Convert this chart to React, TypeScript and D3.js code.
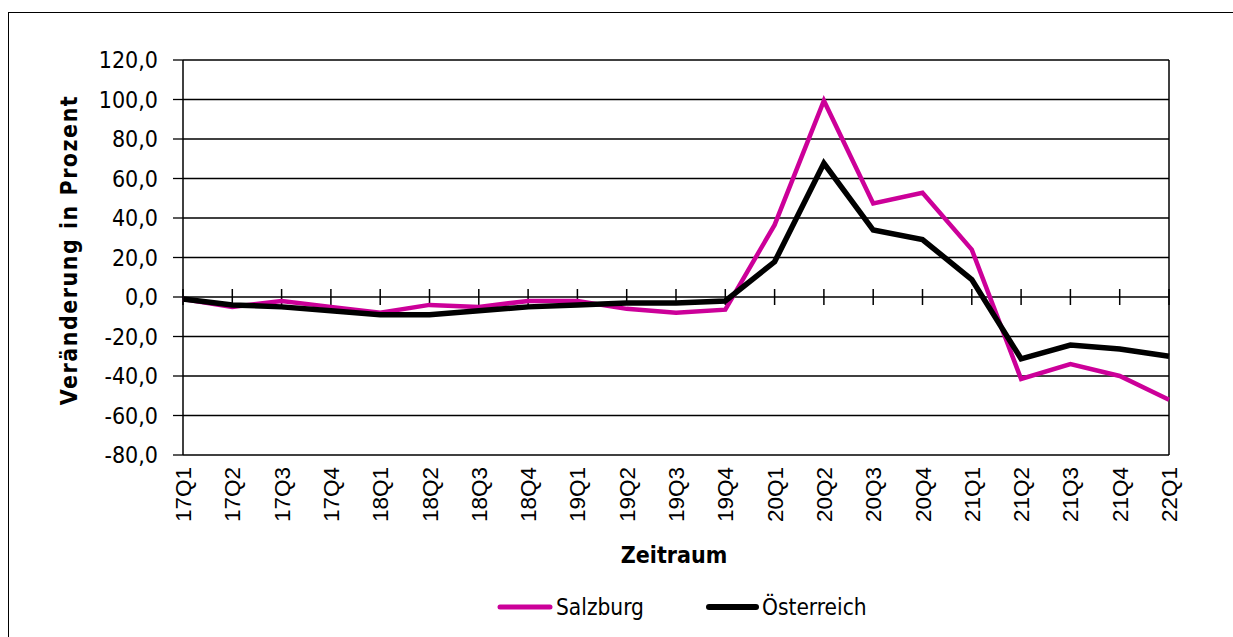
import React from 'react';
import * as d3 from 'd3';

// quarters shown on the x axis
const categories = [
  '17Q1', '17Q2', '17Q3', '17Q4', '18Q1', '18Q2', '18Q3', '18Q4',
  '19Q1', '19Q2', '19Q3', '19Q4', '20Q1', '20Q2', '20Q3', '20Q4',
  '21Q1', '21Q2', '21Q3', '21Q4', '22Q1',
];

// change in percent
const salzburg = [
  -1, -5, -2, -5, -8, -4, -5, -2, -2, -6, -8, -6.4,
  36.5, 99.4, 47.4, 52.8, 24, -41.5, -34, -40, -52,
];
const oesterreich = [
  -1, -4, -5, -7, -9, -9, -7, -5, -4, -3, -3, -2,
  17.8, 67.7, 33.9, 29.1, 8.8, -31.3, -24.3, -26.3, -30,
];

const yTicks = [120, 100, 80, 60, 40, 20, 0, -20, -40, -60, -80];

const series = [
  { name: 'Salzburg', values: salzburg, color: '#CC0099', width: 4.5 },
  { name: 'Österreich', values: oesterreich, color: '#000000', width: 5.5 },
];

const font = '"DejaVu Sans Condensed", "DejaVu Sans", sans-serif';

export default function App() {
  const width = 1233;
  const height = 637;
  const left = 183;
  const right = 1169;
  const top = 60;
  const bottom = 455;

  const x = d3.scalePoint<string>().domain(categories).range([left, right]);
  const y = d3.scaleLinear().domain([-80, 120]).range([bottom, top]);
  const fmt = (v: number) => v.toFixed(1).replace('.', ',');

  const line = d3
    .line<number>()
    .x((_, i) => x(categories[i]) as number)
    .y((d) => y(d));

  return (
    <svg
      width={width}
      height={height}
      style={{ position: 'absolute', left: 0, top: 0, background: '#fff' }}
    >
      {/* outer chart frame */}
      <rect x={8.5} y={12.5} width={1240} height={640} fill="none" stroke="#000" strokeWidth={1} />

      {/* gridlines + y axis */}
      {yTicks.map((t) => (
        <g key={t}>
          <line x1={left} x2={right} y1={y(t)} y2={y(t)} stroke="#000" strokeWidth={1.3} />
          <line x1={173} x2={left} y1={y(t)} y2={y(t)} stroke="#000" strokeWidth={1.3} />
          <text
            x={158}
            y={y(t)}
            dy="0.36em"
            textAnchor="end"
            fontFamily={font}
            fontSize={23}
            fill="#000"
          >
            {fmt(t)}
          </text>
        </g>
      ))}
      <line x1={left} x2={left} y1={top} y2={bottom} stroke="#000" strokeWidth={1.5} />
      <line x1={right} x2={right} y1={top} y2={bottom} stroke="#000" strokeWidth={1.5} />

      {/* category ticks on the zero line */}
      {categories.map((c) => (
        <line
          key={c}
          x1={x(c)}
          x2={x(c)}
          y1={y(0) - 8}
          y2={y(0) + 8}
          stroke="#000"
          strokeWidth={1.5}
        />
      ))}

      {/* x labels */}
      {categories.map((c) => (
        <text
          key={c}
          transform={`translate(${(x(c) as number) + 8},${bottom + 12}) rotate(-90)`}
          textAnchor="end"
          fontFamily='"Liberation Sans", Arial, sans-serif'
          fontSize={22.5}
          fill="#000"
        >
          {c}
        </text>
      ))}

      {/* series */}
      {series.map((s) => (
        <path
          key={s.name}
          d={line(s.values) || ''}
          fill="none"
          stroke={s.color}
          strokeWidth={s.width}
          strokeLinejoin="miter"
        />
      ))}

      {/* axis titles */}
      <text
        x={(left + right) / 2 - 2}
        y={563}
        textAnchor="middle"
        fontFamily={font}
        fontWeight="bold"
        fontSize={23}
      >
        Zeitraum
      </text>
      <text
        transform="translate(77,250) rotate(-90)"
        textAnchor="middle"
        fontFamily={font}
        fontWeight="bold"
        fontSize={23}
        letterSpacing={1.5}
      >
        Veränderung in Prozent
      </text>

      {/* legend */}
      <line x1={500} x2={550} y1={607} y2={607} stroke="#CC0099" strokeWidth={5} strokeLinecap="round" />
      <text x={556} y={615} fontFamily={font} fontSize={22.5}>
        Salzburg
      </text>
      <line x1={709} x2={756} y1={607} y2={607} stroke="#000" strokeWidth={6} strokeLinecap="round" />
      <text x={762} y={615} fontFamily={font} fontSize={22.5}>
        Österreich
      </text>
    </svg>
  );
}
